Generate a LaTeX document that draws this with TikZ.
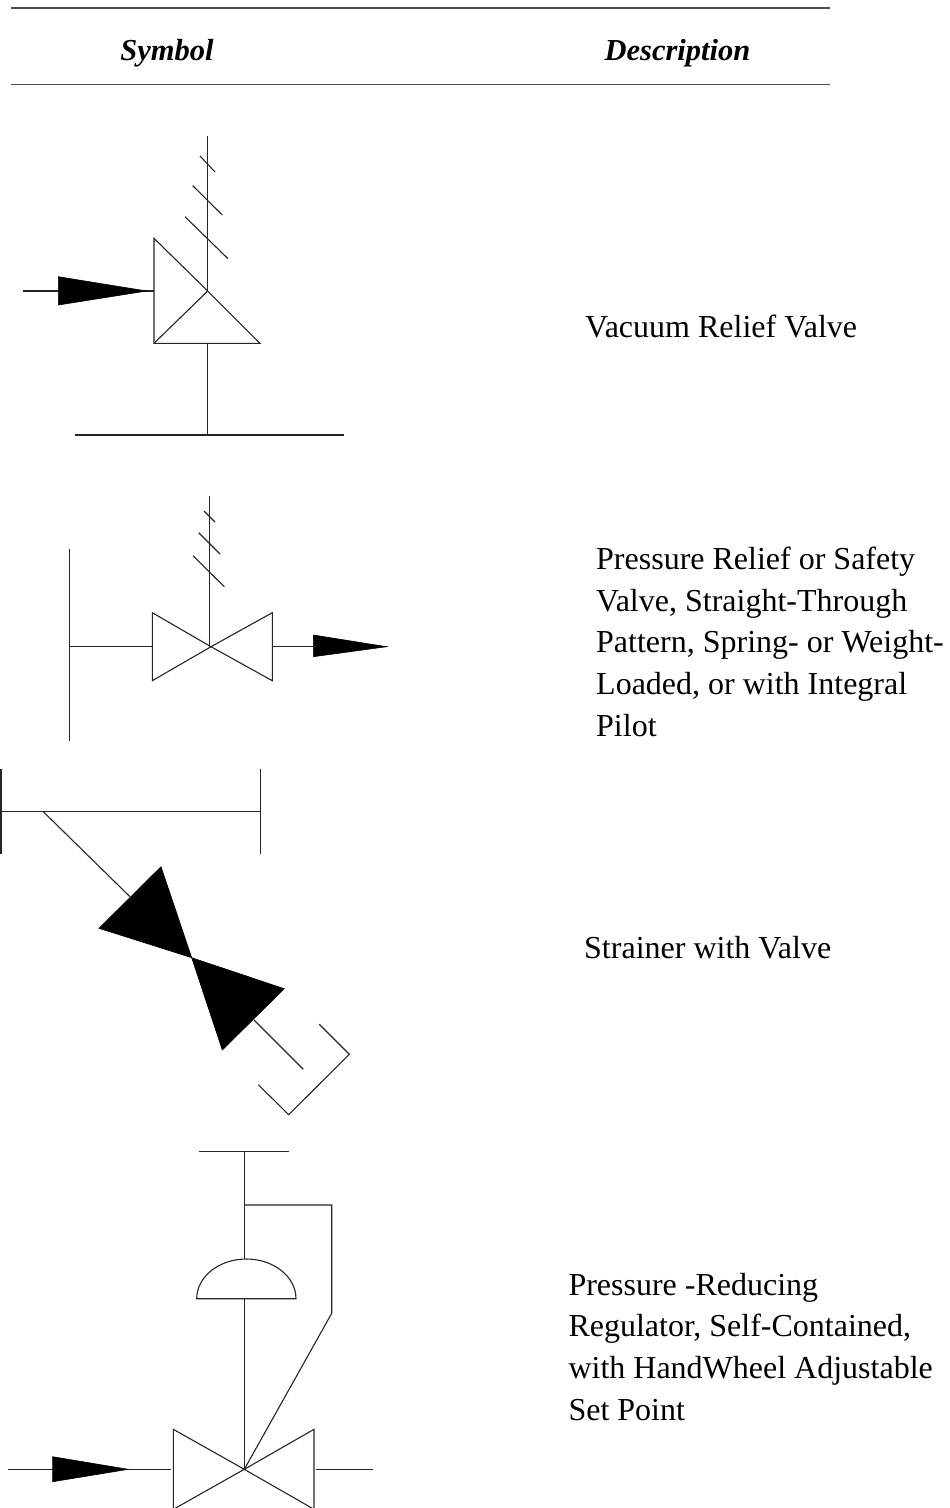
\documentclass[tikz,border=0pt]{standalone}
\usepackage{fontspec}
\setmainfont{Liberation Serif}
\begin{document}
\begin{tikzpicture}[x=1pt,y=-1pt,
  sym/.style={draw=black!85, line width=1.1pt, line join=miter},
  solid/.style={fill=black, draw=black, line width=0.6pt, line join=miter},
  desc/.style={anchor=base west, inner sep=0pt, font=\fontsize{32}{41.7}\selectfont},
  head/.style={anchor=base, inner sep=0pt, font=\fontsize{30.5}{36}\selectfont\bfseries\itshape},
  hrule/.style={draw=black!70, line width=1.6pt}]
\useasboundingbox[fill=white] (0,0) rectangle (950,1508);

% ---------- header ----------
\coordinate (r1a) at (11,8);   \coordinate (r1b) at (830,8);
\coordinate (r2a) at (11,84.5); \coordinate (r2b) at (830,84.5);
\draw[hrule] (r1a) -- (r1b);
\draw[hrule] (r2a) -- (r2b);
\node[head] (hsym) at (167,60) {Symbol};
\node[head] (hdesc) at (677.5,60) {Description};

% ---------- 1: vacuum relief valve ----------
\coordinate (v1c) at (207.7,291);
\draw[sym] (207.7,136) -- (v1c);
\draw[sym] (200,156) -- (215,172);
\draw[sym] (192.7,185.7) -- (222.3,215);
\draw[sym] (185,216.7) -- (228,258.7);
\draw[sym] (154,238.3) -- (v1c) -- (260,343.3) -- (154,343.3) -- cycle;
\draw[sym] (154,343.3) -- (v1c);
\draw[sym] (207.7,343.3) -- (207.7,435);
\draw[sym] (75,435) -- (344.3,435);
\draw[sym] (23.3,291) -- (154,291);
\fill[solid] (58.3,276.7) -- (146.7,291) -- (58.3,305) -- cycle;
\node[desc] (d1) at (585,337.3) {Vacuum Relief Valve};

% ---------- 2: pressure relief / safety valve ----------
\coordinate (v2c) at (211,646.7);
\draw[sym] (69.7,549) -- (69.7,740.7);
\draw[sym] (69.7,646.7) -- (152.3,646.7);
\draw[sym] (152.3,612.7) -- (v2c) -- (152.3,680.7) -- cycle;
\draw[sym] (272.3,612.7) -- (v2c) -- (272.3,680.7) -- cycle;
\draw[sym] (209.3,496) -- (209.3,646.7);
\draw[sym] (204,511) -- (215,522);
\draw[sym] (198.7,532.7) -- (220,554);
\draw[sym] (193,555.7) -- (224.3,586.7);
\draw[sym] (272.3,646.7) -- (386.7,646.7);
\fill[solid] (313.3,635) -- (386.7,646.7) -- (313.3,656.7) -- cycle;
\node[desc] (d2a) at (596,569.3) {Pressure Relief or Safety};
\node[desc] (d2b) at (596,611) {Valve, Straight-Through};
\node[desc] (d2c) at (596,652.7) {Pattern, Spring- or Weight-};
\node[desc] (d2d) at (596,694.4) {Loaded, or with Integral};
\node[desc] (d2e) at (596,736.1) {Pilot};

% ---------- 3: strainer with valve ----------
\draw[sym] (1,769) -- (1,854.3);
\draw[sym] (1,811.7) -- (260.7,811.7);
\draw[sym] (260.7,769) -- (260.7,854.3);
\draw[sym] (43.3,811.7) -- (130,896.7);
\coordinate (v3c) at (191.7,957.7);
\fill[solid] (161,866.7) -- (99,928.3) -- (v3c) -- cycle;
\fill[solid] (v3c) -- (284.3,988.7) -- (222.3,1050) -- cycle;
\draw[sym] (254,1020) -- (303.3,1069.3);
\draw[sym] (319.3,1024.3) -- (349.3,1054.3) -- (288.7,1114.7) -- (258.3,1084.7);
\node[desc] (d3) at (584,958) {Strainer with Valve};

% ---------- 4: pressure-reducing regulator ----------
\coordinate (v4c) at (244.3,1469.3);
\draw[sym] (199,1151.7) -- (288.7,1151.7);
\draw[sym] (244.3,1151.7) -- (244.3,1259);
\draw[sym] (244.3,1205) -- (331.7,1205) -- (331.7,1313.3) -- (v4c);
\draw[sym] (196.7,1298.7) arc[start angle=180, end angle=360, x radius=49.65, y radius=39.7] -- cycle;
\draw[sym] (244.3,1298.7) -- (v4c);
\draw[sym] (173.3,1429.3) -- (v4c) -- (173.3,1509.3) -- cycle;
\draw[sym] (314,1429.3) -- (v4c) -- (314,1509.3) -- cycle;
\draw[sym] (8.3,1469.3) -- (170.7,1469.3);
\fill[solid] (52.7,1456.7) -- (128.3,1469.3) -- (52.7,1481.7) -- cycle;
\draw[sym] (316,1469.3) -- (372.7,1469.3);
\node[desc] (d4a) at (568.3,1295) {Pressure -Reducing};
\node[desc] (d4b) at (568.3,1336.7) {Regulator, Self-Contained,};
\node[desc] (d4c) at (568.3,1378.4) {with HandWheel Adjustable};
\node[desc] (d4d) at (568.3,1420.1) {Set Point};
\end{tikzpicture}
\end{document}
